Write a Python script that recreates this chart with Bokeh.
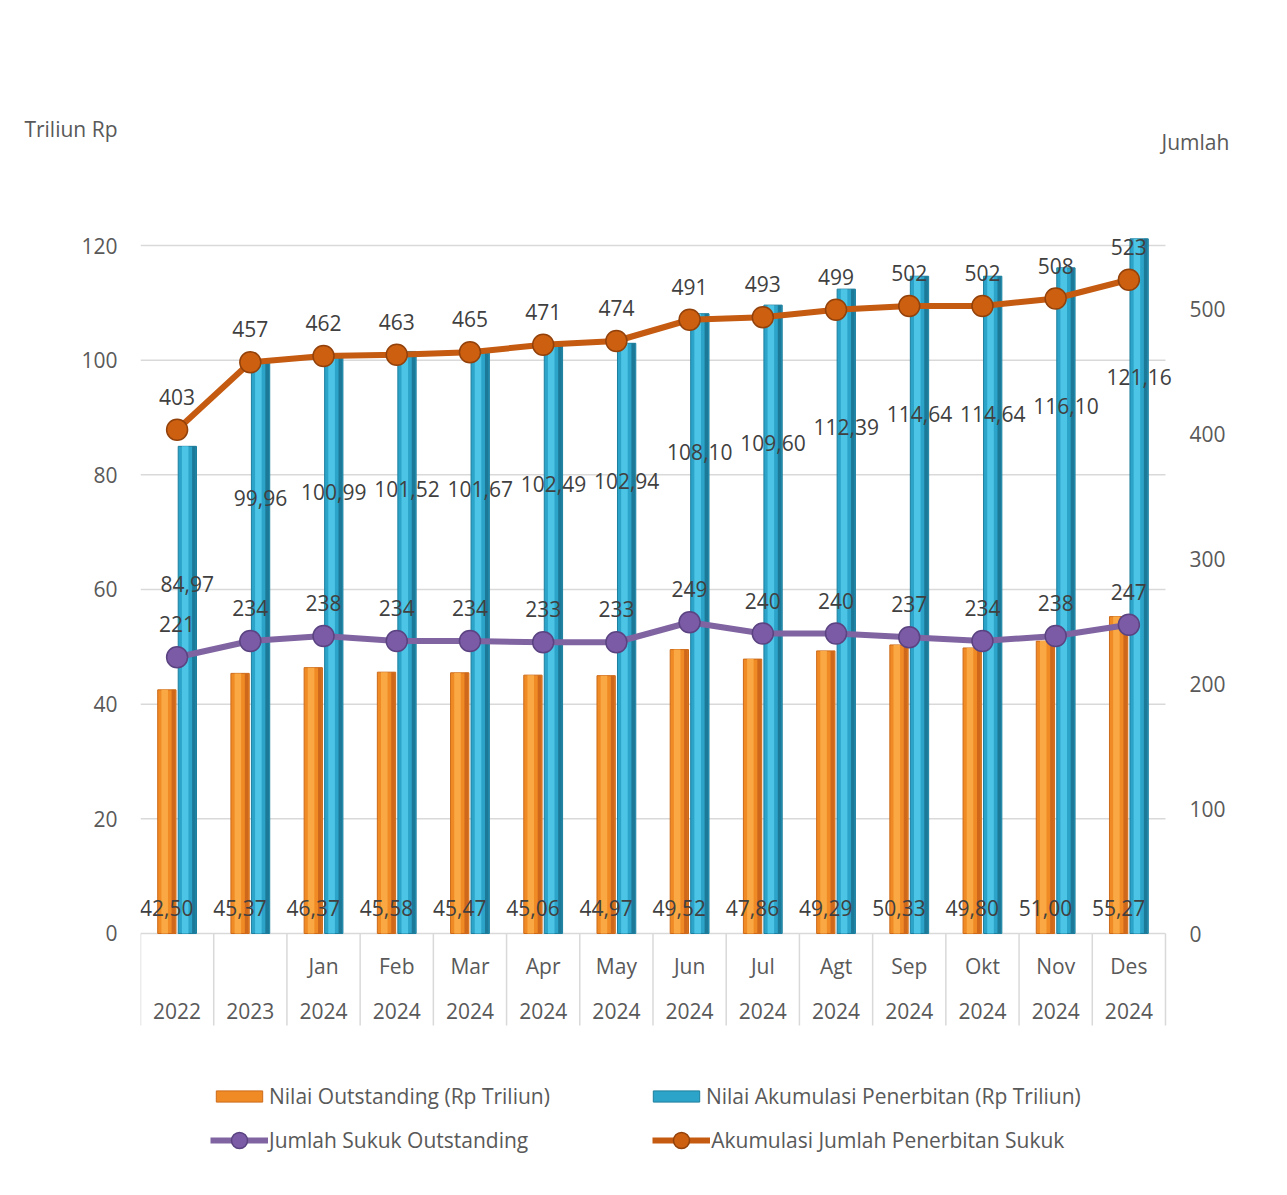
import math
from bokeh.plotting import figure
from bokeh.models import (Range1d, LinearAxis, FixedTicker, ColumnDataSource,
                          Legend, LegendItem, LabelSet)
from bokeh.embed import file_html
from bokeh.resources import INLINE
from bokeh.core.properties import value

# ---------------- data ----------------
months = ["", "", "Jan", "Feb", "Mar", "Apr", "May", "Jun", "Jul", "Agt", "Sep", "Okt", "Nov", "Des"]
years = ["2022", "2023", "2024", "2024", "2024", "2024", "2024", "2024", "2024", "2024", "2024", "2024", "2024", "2024"]
nilai_outstanding = [42.50, 45.37, 46.37, 45.58, 45.47, 45.06, 44.97, 49.52, 47.86, 49.29, 50.33, 49.80, 51.00, 55.27]
nilai_akumulasi = [84.97, 99.96, 100.99, 101.52, 101.67, 102.49, 102.94, 108.10, 109.60, 112.39, 114.64, 114.64, 116.10, 121.16]
jumlah_sukuk_outstanding = [221, 234, 238, 234, 234, 233, 233, 249, 240, 240, 237, 234, 238, 247]
akumulasi_jumlah_penerbitan = [403, 457, 462, 463, 465, 471, 474, 491, 493, 499, 502, 502, 508, 523]
left_ticks = [0, 20, 40, 60, 80, 100, 120]
right_ticks = [0, 100, 200, 300, 400, 500]
left_title = "Triliun Rp"
right_title = "Jumlah"

FONT = "Open Sans"
FS = "21px"
TXT = "#404040"
AX = "#595959"
GRID = "#d9d9d9"

n = len(years)
xc = [i + 0.5 for i in range(n)]
bw = 0.25
off = 0.14

def fmt(v):
    return f"{v:.2f}".replace(".", ",")

src = ColumnDataSource(dict(
    x=xc,
    xo=[x - off for x in xc],
    xo_hi=[x - off - 0.03 for x in xc],
    xo_dk=[x - off + 0.09 for x in xc],
    xb=[x + off for x in xc],
    xb_hi=[x + off - 0.03 for x in xc],
    xb_dk=[x + off + 0.09 for x in xc],
    out=nilai_outstanding,
    ak=nilai_akumulasi,
    js=jumlah_sukuk_outstanding,
    aj=akumulasi_jumlah_penerbitan,
    zero=[0] * n,
    out_lbl=[fmt(v) for v in nilai_outstanding],
    ak_lbl=[fmt(v) for v in nilai_akumulasi],
    js_lbl=[str(v) for v in jumlah_sukuk_outstanding],
    aj_lbl=[str(v) for v in akumulasi_jumlah_penerbitan],
    month=months,
    year=years,
))

# frame spans the whole plotting band; the axes only tick the value range
p = figure(width=1271, height=1179, output_backend="svg", toolbar_location=None,
           x_range=Range1d(0, n + 0.205), y_range=Range1d(-42.21, 143.547),
           x_axis_location=None,
           min_border_left=140, min_border_right=91,
           min_border_top=110, min_border_bottom=4)
p.outline_line_color = None
p.background_fill_color = "white"
p.border_fill_color = "white"
p.grid.visible = False

p.extra_y_ranges = {"right": Range1d(-193.6, 658.4)}

# title positions on the axes
left_title_pos = 140.4
right_title_pos = 633.6

ya = p.yaxis[0]
ya.ticker = FixedTicker(ticks=left_ticks + [left_title_pos])
ya.major_label_overrides = {left_title_pos: left_title}
ya.axis_line_color = None
ya.major_tick_line_color = None
ya.minor_tick_line_color = None
ya.major_label_standoff = 17
ya.major_label_text_font = FONT
ya.major_label_text_font_size = FS
ya.major_label_text_color = AX

ra = LinearAxis(y_range_name="right", ticker=FixedTicker(ticks=right_ticks))
ra.axis_line_color = None
ra.major_tick_line_color = None
ra.minor_tick_line_color = None
ra.major_label_standoff = 3
ra.major_label_text_font = FONT
ra.major_label_text_font_size = FS
ra.major_label_text_color = AX
p.add_layout(ra, "right")

rt = LinearAxis(y_range_name="right", ticker=FixedTicker(ticks=[right_title_pos]))
rt.major_label_overrides = {right_title_pos: right_title}
rt.axis_line_color = None
rt.major_tick_line_color = None
rt.minor_tick_line_color = None
rt.major_label_standoff = -73
rt.major_label_text_font = FONT
rt.major_label_text_font_size = FS
rt.major_label_text_color = AX
p.add_layout(rt, "right")

# horizontal gridlines over the category span
p.segment(x0=0, x1=n, y0=left_ticks, y1=left_ticks, line_color=GRID, line_width=1.5)

# category separators
p.ray(x=list(range(n + 1)), y=0, length=92, length_units="screen", angle=-math.pi / 2,
      line_color=GRID, line_width=1.5)

# bars: orange (outstanding)
r_out = p.vbar(x="xo", top="out", bottom=0, width=bw, source=src,
               fill_color="#f08a24", line_color="#cc6a1a", line_width=1)
p.vbar(x="xo_hi", top="out", bottom=0, width=0.09, source=src,
       fill_color="#f9a843", line_color=None)
p.vbar(x="xo_dk", top="out", bottom=0, width=0.05, source=src,
       fill_color="#cf681b", line_color=None)
# bars: blue (akumulasi)
r_ak = p.vbar(x="xb", top="ak", bottom=0, width=bw, source=src,
              fill_color="#2ca3c8", line_color="#1d7f9e", line_width=1)
p.vbar(x="xb_hi", top="ak", bottom=0, width=0.09, source=src,
       fill_color="#4cc4e6", line_color=None)
p.vbar(x="xb_dk", top="ak", bottom=0, width=0.05, source=src,
       fill_color="#1c7a98", line_color=None)

# lines
r_pl = p.line("x", "js", source=src, y_range_name="right", line_color="#8064a2", line_width=6)
r_ps = p.scatter("x", "js", source=src, y_range_name="right", size=21,
                 fill_color="#7b5aa6", line_color="#5a4380", line_width=1.5)
r_ol = p.line("x", "aj", source=src, y_range_name="right", line_color="#c55a11", line_width=6)
r_os = p.scatter("x", "aj", source=src, y_range_name="right", size=21,
                 fill_color="#cc6010", line_color="#93410b", line_width=1.5)

# data labels
def labels(xcol, ycol, tcol, yoff, rng="default"):
    return LabelSet(x=xcol, y=ycol, text=tcol, source=src, y_offset=yoff, y_range_name=rng,
                    text_font=value(FONT), text_font_size=value(FS), text_color=TXT,
                    text_align="center", text_baseline="middle")

p.add_layout(labels("xo", "zero", "out_lbl", 25))
p.add_layout(labels("xb", "ak", "ak_lbl", -138))
p.add_layout(labels("x", "js", "js_lbl", 33, "right"))
p.add_layout(labels("x", "aj", "aj_lbl", 33, "right"))

# category table
common = dict(text_font=value(FONT), text_font_size=FS, text_align="center",
              text_baseline="middle", source=src, text_color=AX)
p.text(x="x", y=0, text="month", y_offset=33, **common)
p.text(x="x", y=0, text="year", y_offset=78, **common)

leg_common = dict(orientation="horizontal", label_standoff=1, padding=0, margin=0,
                  border_line_color=None, background_fill_alpha=0, label_text_font=FONT,
                  label_text_font_size=FS, label_text_color=AX)
p.add_layout(Legend(items=[LegendItem(label="Nilai Outstanding (Rp Triliun)", renderers=[r_out]),
                           LegendItem(label="Nilai Akumulasi Penerbitan (Rp Triliun)", renderers=[r_ak])],
                    location=(70, 65), glyph_width=58, glyph_height=14, label_height=24,
                    spacing=97, **leg_common), "center")
p.add_layout(Legend(items=[LegendItem(label="Jumlah Sukuk Outstanding", renderers=[r_pl, r_ps]),
                           LegendItem(label="Akumulasi Jumlah Penerbitan Sukuk", renderers=[r_ol, r_os])],
                    location=(70, 15), glyph_width=58, glyph_height=40, label_height=40,
                    spacing=124, **leg_common), "center")

open("out.html", "w").write(file_html(p, INLINE))
